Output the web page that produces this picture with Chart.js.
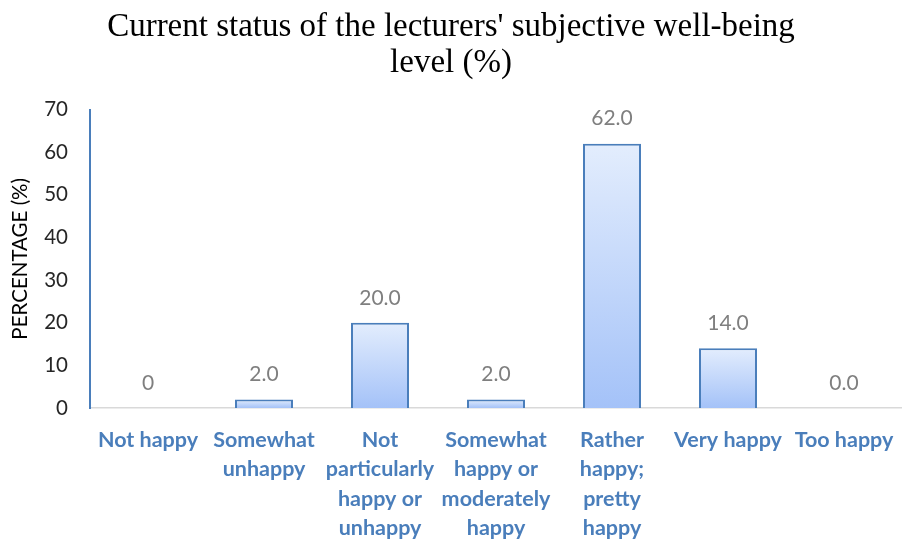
<!DOCTYPE html>
<html>
<head>
<meta charset="utf-8">
<script src="https://cdn.jsdelivr.net/npm/chart.js@4"></script>
<style>
  html, body { margin: 0; padding: 0; background: #fff; }
  #wrap { width: 902px; height: 545px; }
</style>
</head>
<body>
<div id="wrap"><canvas id="chart"></canvas></div>
<script>
const categories = [
  "Not happy",
  ["Somewhat", "unhappy"],
  ["Not", "particularly", "happy or", "unhappy"],
  ["Somewhat", "happy or", "moderately", "happy"],
  ["Rather", "happy;", "pretty", "happy"],
  "Very happy",
  "Too happy"
];
const percentages = [0, 2, 20, 2, 62, 14, 0];
const valueLabels = ["0", "2.0", "20.0", "2.0", "62.0", "14.0", "0.0"];
const yTicks = [0, 10, 20, 30, 40, 50, 60, 70];

const barLabels = {
  id: "barLabels",
  afterDatasetsDraw(chart) {
    const ctx = chart.ctx;
    const meta = chart.getDatasetMeta(0);
    ctx.save();
    ctx.font = "21px Lato";
    ctx.fillStyle = "#7f7f7f";
    ctx.textAlign = "center";
    ctx.textBaseline = "middle";
    meta.data.forEach((bar, i) => {
      ctx.fillText(valueLabels[i], bar.x, bar.y - 25);
    });
    ctx.restore();
  }
};

function barFill(context) {
  const chart = context.chart;
  const y = chart.scales.y;
  if (!y || !context.parsed) return "#c7d9fc";
  const top = y.getPixelForValue(context.parsed.y);
  const bottom = y.getPixelForValue(0);
  if (!isFinite(top) || !isFinite(bottom) || bottom - top < 1) return "#c7d9fc";
  const g = chart.ctx.createLinearGradient(0, top, 0, bottom);
  g.addColorStop(0, "#e3edfd");
  g.addColorStop(1, "#a4c2f8");
  return g;
}

new Chart(document.getElementById("chart"), {
  type: "bar",
  data: {
    labels: categories,
    datasets: [{
      data: percentages,
      backgroundColor: barFill,
      borderColor: "#4a7ebb",
      borderWidth: 2,
      borderSkipped: "bottom",
      categoryPercentage: 1,
      barPercentage: 0.5
    }]
  },
  plugins: [barLabels],
  options: {
    responsive: true,
    maintainAspectRatio: false,
    animation: false,
    layout: { padding: { left: 0, right: 0, top: 10, bottom: 0 } },
    plugins: {
      legend: { display: false },
      tooltip: { enabled: false },
      title: {
        display: true,
        text: ["Current status of the lecturers' subjective well-being", "level (%)"],
        color: "#000",
        font: { family: "Liberation Serif", size: 33, weight: "normal", lineHeight: 1.07 },
        padding: { top: 0, bottom: 29 }
      }
    },
    scales: {
      x: {
        grid: { display: false },
        border: { display: true, color: "#d9d9d9", width: 1.5 },
        afterFit(scale) {
          scale.height = 137;
          scale.paddingLeft = 0;
          scale.paddingRight = 0;
        },
        ticks: {
          autoSkip: false,
          maxRotation: 0,
          padding: 10,
          color: "#4a7ebb",
          font: { family: "Lato", size: 21.5, weight: "bold", lineHeight: 1.35 }
        }
      },
      y: {
        min: 0,
        max: 70,
        afterBuildTicks(axis) { axis.ticks = yTicks.map(v => ({ value: v })); },
        afterFit(scale) { scale.width = 90; },
        grid: { display: false },
        border: { display: true, color: "#4a7ebb", width: 2 },
        ticks: {
          padding: 14,
          color: "#262626",
          font: { family: "Lato", size: 20.5 }
        },
        title: {
          display: true,
          text: "PERCENTAGE (%)",
          color: "#000",
          font: { family: "Lato", size: 20.5 },
          padding: { top: 8, bottom: 4 }
        }
      }
    }
  }
});
</script>
</body>
</html>
